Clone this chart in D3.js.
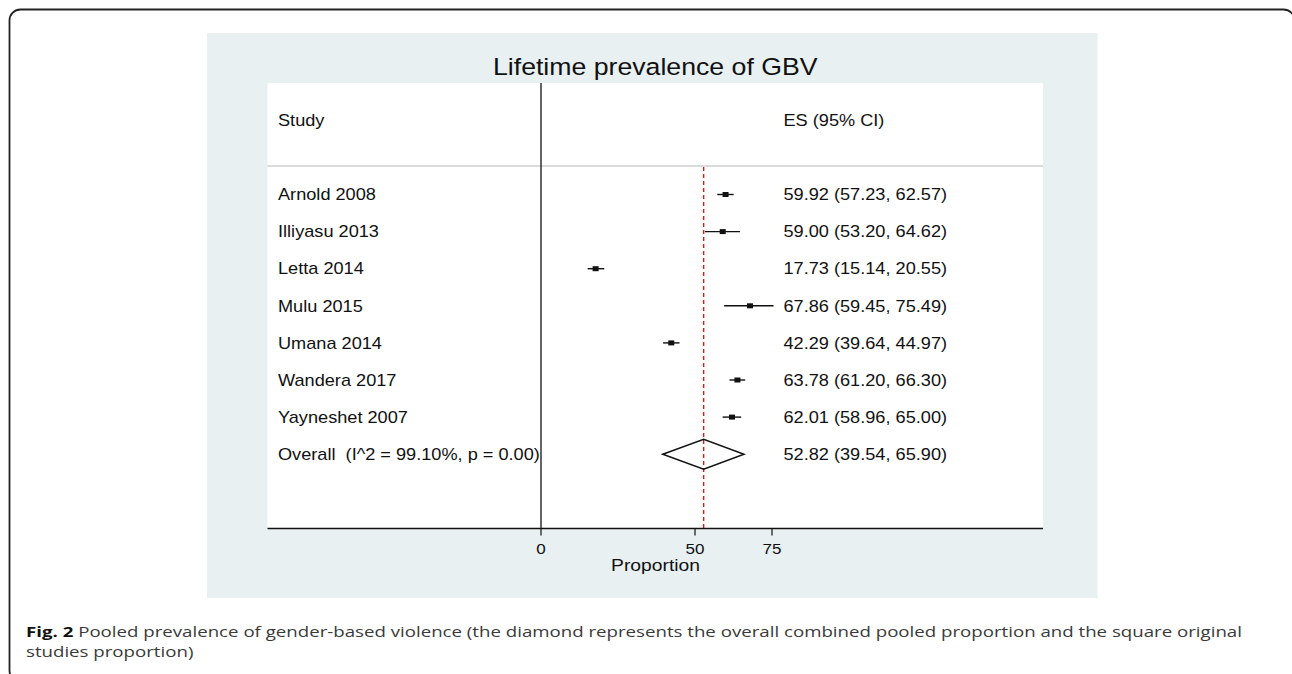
<!DOCTYPE html>
<html>
<head>
<meta charset="utf-8">
<script src="https://cdn.jsdelivr.net/npm/d3@7"></script>
<style>
  html, body { margin: 0; padding: 0; background: #ffffff; }
  svg { display: block; }
  text { white-space: pre; }
</style>
</head>
<body>
<svg id="chart" width="1292" height="674"></svg>
<script>
// ---------------- data ----------------
const title = "Lifetime prevalence of GBV";
const studies = ["Arnold 2008", "Illiyasu 2013", "Letta 2014", "Mulu 2015", "Umana 2014", "Wandera 2017", "Yayneshet 2007"];
const esValues = [59.92, 59.00, 17.73, 67.86, 42.29, 63.78, 62.01];
const ciLower  = [57.23, 53.20, 15.14, 59.45, 39.64, 61.20, 58.96];
const ciUpper  = [62.57, 64.62, 20.55, 75.49, 44.97, 66.30, 65.00];
const overallLabel = "Overall  (I^2 = 99.10%, p = 0.00)";
const overallES = 52.82, overallLower = 39.54, overallUpper = 65.90;
const xTicks = [0, 50, 75];
const xTitle = "Proportion";
const headerLeft = "Study", headerRight = "ES (95% CI)";
const captionBold = "Fig. 2";
const captionLine1 = " Pooled prevalence of gender-based violence (the diamond represents the overall combined pooled proportion and the square original";
const captionLine2 = "studies proportion)";

// ---------------- layout ----------------
const SX = 1.135; // horizontal stretch of the original figure text
const svg = d3.select("#chart");
const FONT = "'Liberation Sans', Arial, Helvetica, sans-serif";

const panel = { x0: 207, y0: 33, x1: 1097.5, y1: 598 };
const plot  = { x0: 267.5, y0: 83, x1: 1043, y1: 528.5 };

const x = d3.scaleLinear().domain([0, 75]).range([541, 772]);
const rows = studies.concat([overallLabel]);
const y = d3.scalePoint().domain(rows).range([194.5, 454.2]);

// outer frame
svg.append("rect")
  .attr("x", 9.5).attr("y", 9.5)
  .attr("width", 1285).attr("height", 672)
  .attr("rx", 11).attr("ry", 11)
  .attr("fill", "none").attr("stroke", "#222").attr("stroke-width", 1.8);

// graph region
svg.append("rect")
  .attr("x", panel.x0).attr("y", panel.y0)
  .attr("width", panel.x1 - panel.x0).attr("height", panel.y1 - panel.y0)
  .attr("fill", "#e8f0f2");

// plot region
svg.append("rect")
  .attr("x", plot.x0).attr("y", plot.y0)
  .attr("width", plot.x1 - plot.x0).attr("height", plot.y1 - plot.y0)
  .attr("fill", "#ffffff");

function stext(parent, px, py, str, size, anchor, extra) {
  const g = parent.append("g").attr("transform", `translate(${px},${py}) scale(${SX},1)`);
  const t = g.append("text")
    .attr("x", 0).attr("y", 0)
    .attr("font-family", FONT)
    .attr("font-size", size)
    .attr("fill", "#111")
    .attr("text-anchor", anchor || "start")
    .text(str);
  if (extra) extra(t);
  return t;
}

// title
stext(svg, (plot.x0 + plot.x1) / 2, 75, title, 23.5, "middle");

// header line
svg.append("line")
  .attr("x1", plot.x0).attr("x2", plot.x1)
  .attr("y1", 166).attr("y2", 166)
  .attr("stroke", "#b8b8b8").attr("stroke-width", 1.2);

// headers
stext(svg, 278, 126.4, headerLeft, 16, "start");
stext(svg, 783.5, 126.4, headerRight, 16, "start");

// null line (x = 0)
svg.append("line")
  .attr("x1", x(0)).attr("x2", x(0))
  .attr("y1", plot.y0).attr("y2", plot.y1)
  .attr("stroke", "#111").attr("stroke-width", 1.3);

// overall dashed line
svg.append("line")
  .attr("x1", x(overallES)).attr("x2", x(overallES))
  .attr("y1", 167).attr("y2", plot.y1)
  .attr("stroke", "#ff0000").attr("stroke-width", 1.3)
  .attr("stroke-dasharray", "4,3");

// study rows
const fmt = d3.format(".2f");
studies.forEach((s, i) => {
  const yy = y(s);
  stext(svg, 278, yy + 5.7, s, 16, "start");
  svg.append("line")
    .attr("x1", x(ciLower[i])).attr("x2", x(ciUpper[i]))
    .attr("y1", yy).attr("y2", yy)
    .attr("stroke", "#111").attr("stroke-width", 1.4);
  svg.append("rect")
    .attr("x", x(esValues[i]) - 3).attr("y", yy - 2.5)
    .attr("width", 6).attr("height", 5)
    .attr("fill", "#111");
  stext(svg, 783.5, yy + 5.7, `${fmt(esValues[i])} (${fmt(ciLower[i])}, ${fmt(ciUpper[i])})`, 16, "start");
});

// overall row
const yo = y(overallLabel);
stext(svg, 278, yo + 5.7, overallLabel, 16, "start");
svg.append("path")
  .attr("d", `M${x(overallLower)},${yo} L${x(overallES)},${yo - 15} L${x(overallUpper)},${yo} L${x(overallES)},${yo + 15} Z`)
  .attr("fill", "none").attr("stroke", "#111").attr("stroke-width", 1.5);
stext(svg, 783.5, yo + 5.7, `${fmt(overallES)} (${fmt(overallLower)}, ${fmt(overallUpper)})`, 16, "start");

// x axis
svg.append("line")
  .attr("x1", plot.x0).attr("x2", plot.x1)
  .attr("y1", plot.y1).attr("y2", plot.y1)
  .attr("stroke", "#111").attr("stroke-width", 1.5);
const axisG = svg.append("g");
xTicks.forEach(t => {
  axisG.append("line")
    .attr("x1", x(t)).attr("x2", x(t))
    .attr("y1", plot.y1).attr("y2", plot.y1 + 7)
    .attr("stroke", "#111").attr("stroke-width", 1.2);
  stext(axisG, x(t), 553.5, String(t), 15, "middle");
});
stext(svg, 655.5, 571, xTitle, 17, "middle");

// caption
const capFont = "'Open Sans', 'Noto Sans', sans-serif";
function captionText(py, parts) {
  const g = svg.append("g");
  const t = g.append("text").attr("x", 0).attr("y", 0)
    .attr("font-family", capFont).attr("font-size", 14.5).attr("fill", "#3a3a3a");
  parts.forEach(p => {
    t.append("tspan").attr("font-weight", p.bold ? 700 : 400)
      .attr("fill", p.bold ? "#111" : "#3a3a3a").text(p.text);
  });
  return { g, t, py };
}
const c1 = captionText(637, [{ text: captionBold, bold: true }, { text: captionLine1 }]);
const c2 = captionText(657, [{ text: captionLine2 }]);
const w1 = c1.t.node().getComputedTextLength();
const k = (1243 - 26) / w1;
c1.g.attr("transform", `translate(26,${c1.py}) scale(${k},1)`);
c2.g.attr("transform", `translate(26,${c2.py}) scale(${k},1)`);
</script>
</body>
</html>
